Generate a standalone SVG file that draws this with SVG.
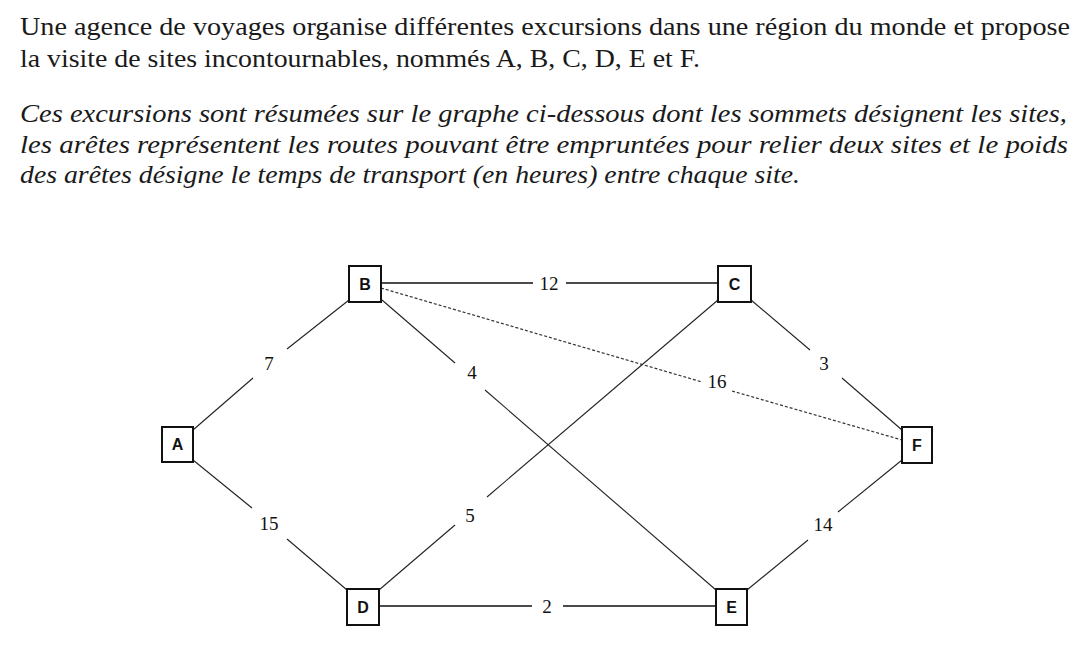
<svg xmlns="http://www.w3.org/2000/svg" width="1089" height="658" viewBox="0 0 1089 658">
<style>
.t{font-family:"Liberation Serif","Times New Roman",serif;font-size:25px;fill:#1a1a1a}
.i{font-style:italic}
.box{fill:#fff;stroke:#111;stroke-width:2}
.nl{font-family:"Liberation Sans",Arial,sans-serif;font-weight:bold;font-size:16px;fill:#111;text-anchor:middle}
.e{stroke:#222;stroke-width:1.1;fill:none}
.h{stroke:#111;stroke-width:1.6;fill:none}
.d{stroke:#333;stroke-width:1.2;stroke-dasharray:3 2;fill:none}
.w{font-family:"Liberation Serif","Times New Roman",serif;font-size:19px;fill:#111;text-anchor:middle}
</style>
<rect width="1089" height="658" fill="#fff"/>
<g id="texte">
<text class="t" x="20" y="35" textLength="1050" lengthAdjust="spacingAndGlyphs">Une agence de voyages organise différentes excursions dans une région du monde et propose</text>
<text class="t" x="20" y="67" textLength="680" lengthAdjust="spacingAndGlyphs">la visite de sites incontournables, nommés A, B, C, D, E et F.</text>
<text class="t i" x="20" y="122" textLength="1047" lengthAdjust="spacingAndGlyphs">Ces excursions sont résumées sur le graphe ci-dessous dont les sommets désignent les sites,</text>
<text class="t i" x="20" y="153" textLength="1048" lengthAdjust="spacingAndGlyphs">les arêtes représentent les routes pouvant être empruntées pour relier deux sites et le poids</text>
<text class="t i" x="20" y="183" textLength="780" lengthAdjust="spacingAndGlyphs">des arêtes désigne le temps de transport (en heures) entre chaque site.</text>
</g>
<g id="connectors">
<line class="h" x1="381" y1="283" x2="533" y2="283"/>
<line class="h" x1="566" y1="283" x2="718" y2="283"/>
<text class="w" x="549" y="290">12</text>
<line class="h" x1="379" y1="606" x2="532" y2="606"/>
<line class="h" x1="563" y1="606" x2="716" y2="606"/>
<text class="w" x="547" y="613">2</text>
<line class="e" x1="193" y1="430" x2="253" y2="378"/>
<line class="e" x1="287" y1="349" x2="349" y2="300"/>
<text class="w" x="269" y="370">7</text>
<line class="e" x1="193" y1="460" x2="252" y2="508"/>
<line class="e" x1="287" y1="539" x2="347" y2="590"/>
<text class="w" x="269" y="530">15</text>
<line class="e" x1="382" y1="300" x2="455" y2="363"/>
<line class="e" x1="485" y1="390" x2="716" y2="590"/>
<text class="w" x="472" y="379">4</text>
<line class="e" x1="718" y1="300" x2="487" y2="497"/>
<line class="e" x1="455" y1="525" x2="379" y2="590"/>
<text class="w" x="470" y="522">5</text>
<line class="e" x1="751" y1="300" x2="810" y2="350"/>
<line class="e" x1="842" y1="378" x2="902" y2="430"/>
<text class="w" x="824" y="370">3</text>
<line class="d" x1="381" y1="288" x2="702" y2="382"/>
<line class="d" x1="732" y1="391" x2="902" y2="440"/>
<text class="w" x="717" y="388">16</text>
<line class="e" x1="902" y1="460" x2="838" y2="512"/>
<line class="e" x1="808" y1="540" x2="747" y2="590"/>
<text class="w" x="823" y="531">14</text>
</g>
<g id="A"><rect class="box" x="162" y="427" width="31" height="35"/><text class="nl" x="177.5" y="450">A</text></g>
<g id="B"><rect class="box" x="349" y="266" width="32" height="36"/><text class="nl" x="365" y="290">B</text></g>
<g id="C"><rect class="box" x="718" y="266" width="33" height="36"/><text class="nl" x="734.5" y="290">C</text></g>
<g id="D"><rect class="box" x="347" y="589" width="32" height="36"/><text class="nl" x="363" y="613">D</text></g>
<g id="E"><rect class="box" x="716" y="589" width="31" height="36"/><text class="nl" x="731.5" y="613">E</text></g>
<g id="F"><rect class="box" x="902" y="427" width="30" height="36"/><text class="nl" x="917" y="451">F</text></g>
</svg>
